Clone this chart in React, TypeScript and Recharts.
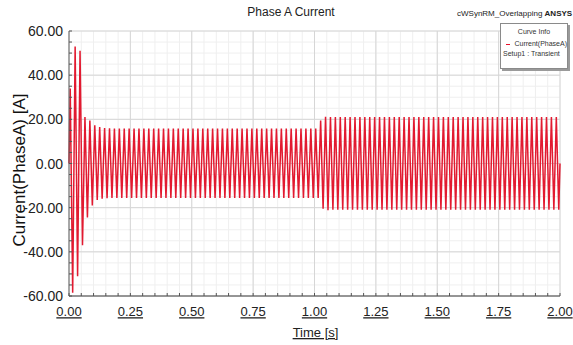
import React from "react";
import { LineChart, Line, XAxis, YAxis, CartesianGrid, Legend } from "recharts";

// Phase A current, peak of each half cycle (A). 50 Hz supply, load step near t = 1.03 s.
const posPeaks = [
  34, 53, 51, 21, 19.5, 17.3, 16.5, 16.1, 15.9, 15.8,
  15.8, 15.8, 15.8, 15.8, 15.8, 15.8, 15.8, 15.8, 15.8, 15.8,
  15.8, 15.8, 15.8, 15.8, 15.8, 15.8, 15.8, 15.8, 15.8, 15.8,
  15.8, 15.8, 15.8, 15.8, 15.8, 15.8, 15.8, 15.8, 15.8, 15.8,
  15.8, 15.8, 15.8, 15.8, 15.8, 15.8, 15.8, 15.8, 15.8, 15.8,
  15.8, 19.5, 21.2, 21.0, 21.0, 21.0, 21.0, 21.0, 21.0, 21.0,
  21.0, 21.0, 21.0, 21.0, 21.0, 21.0, 21.0, 21.0, 21.0, 21.0,
  21.0, 21.0, 21.0, 21.0, 21.0, 21.0, 21.0, 21.0, 21.0, 21.0,
  21.0, 21.0, 21.0, 21.0, 21.0, 21.0, 21.0, 21.0, 21.0, 21.0,
  21.0, 21.0, 21.0, 21.0, 21.0, 21.0, 21.0, 21.0, 21.0, 21.0,
];
const negPeaks = [
  -58.5, -51, -37, -24.4, -19, -16.5, -16, -15.7, -15.6, -15.6,
  -15.6, -15.6, -15.6, -15.6, -15.6, -15.6, -15.6, -15.6, -15.6, -15.6,
  -15.6, -15.6, -15.6, -15.6, -15.6, -15.6, -15.6, -15.6, -15.6, -15.6,
  -15.6, -15.6, -15.6, -15.6, -15.6, -15.6, -15.6, -15.6, -15.6, -15.6,
  -15.6, -15.6, -15.6, -15.6, -15.6, -15.6, -15.6, -15.6, -15.6, -15.6,
  -15.6, -20.5, -21.2, -20.9, -20.9, -20.9, -20.9, -20.9, -20.9, -20.9,
  -20.9, -20.9, -20.9, -20.9, -20.9, -20.9, -20.9, -20.9, -20.9, -20.9,
  -20.9, -20.9, -20.9, -20.9, -20.9, -20.9, -20.9, -20.9, -20.9, -20.9,
  -20.9, -20.9, -20.9, -20.9, -20.9, -20.9, -20.9, -20.9, -20.9, -20.9,
  -20.9, -20.9, -20.9, -20.9, -20.9, -20.9, -20.9, -20.9, -20.9, -20.9,
];
const PERIOD = 0.02;

const xTicks = [0, 0.25, 0.5, 0.75, 1, 1.25, 1.5, 1.75, 2];
const yTicks = [-60, -40, -20, 0, 20, 40, 60];
const xMinor = Array.from({ length: 41 }, (_, i) => +(i * 0.05).toFixed(2));
const yMinor = Array.from({ length: 25 }, (_, i) => -60 + i * 5);

const rows: { t: number; i: number }[] = [{ t: 0, i: 0 }];
posPeaks.forEach((p, k) => {
  rows.push({ t: PERIOD * k + PERIOD / 4, i: p });
  rows.push({ t: PERIOD * k + (3 * PERIOD) / 4, i: negPeaks[k] });
});
rows.push({ t: 2, i: 0 });

const FONT = "Arial, 'Liberation Sans', sans-serif";
const isMajor = (v: number, step: number) => Math.abs(v / step - Math.round(v / step)) < 1e-6;

const XTick = ({ x, y, payload }: any) =>
  isMajor(payload.value, 0.25) ? (
    <text x={x} y={y} dy="0.71em" textAnchor="middle" fontSize={13} fontFamily={FONT} fill="#222" textDecoration="underline">
      {payload.value.toFixed(2)}
    </text>
  ) : null;

const YTick = ({ x, y, payload }: any) =>
  isMajor(payload.value, 20) ? (
    <text x={x} y={y} dy="0.36em" textAnchor="end" fontSize={14} fontFamily={FONT} fill="#222">
      {payload.value.toFixed(2)}
    </text>
  ) : null;

const CurveInfo = () => (
  <div
    style={{
      width: 68,
      height: 46,
      border: "1px solid #8a8a8a",
      background: "#fff",
      boxShadow: "2px 2px 0 #9a9a9a",
      fontFamily: FONT,
      fontSize: 7,
      color: "#333",
      lineHeight: "10px",
      boxSizing: "border-box",
      paddingTop: 3,
    }}
  >
    <div style={{ textAlign: "center" }}>Curve Info</div>
    <div style={{ display: "flex", alignItems: "center", marginTop: 2, paddingLeft: 5 }}>
      <span style={{ display: "inline-block", width: 8, height: 1, background: "#e8102a", marginRight: 4 }} />
      Current(PhaseA)
    </div>
    <div style={{ paddingLeft: 2 }}>Setup1 : Transient</div>
  </div>
);

export default function App() {
  return (
    <div style={{ position: "absolute", left: 0, top: 0, width: 573, height: 345, background: "#fff" }}>
      <div style={{ position: "absolute", left: 0, width: 582, top: 5, textAlign: "center", fontFamily: FONT, fontSize: 12, color: "#222" }}>
        Phase A Current
      </div>
      <div style={{ position: "absolute", left: 457, top: 9, fontFamily: FONT, fontSize: 8, color: "#222", whiteSpace: "nowrap" }}>
        cWSynRM_Overlapping <b style={{ fontSize: 8 }}>ANSYS</b>
      </div>
      <LineChart width={573} height={345} data={rows} margin={{ top: 31, right: 13, bottom: 19, left: 9 }}>
        <CartesianGrid stroke="#efefef" verticalValues={xMinor} horizontalValues={yMinor} />
        <CartesianGrid stroke="#d6d6d6" verticalValues={xTicks} horizontalValues={yTicks} />
        <XAxis
          dataKey="t"
          type="number"
          domain={[0, 2]}
          ticks={xMinor}
          interval={0}
          height={30}
          tickSize={-3}
          tickMargin={14}
          tick={<XTick />}
          tickLine={{ stroke: "#555" }}
          axisLine={{ stroke: "#444" }}
          label={{
            content: ({ viewBox }: any) => (
              <text x={viewBox.x + viewBox.width / 2 + 1} y={337} textAnchor="middle" fontSize={13} fontFamily={FONT} fill="#222" textDecoration="underline">
                Time [s]
              </text>
            ),
          }}
        />
        <XAxis xAxisId="top" orientation="top" dataKey="t" type="number" domain={[0, 2]} height={0} tick={false} tickLine={false} axisLine={{ stroke: "#b4b4b4", strokeWidth: 2 }} />
        <YAxis
          type="number"
          domain={[-60, 60]}
          ticks={yMinor}
          interval={0}
          width={60}
          tickSize={-3}
          tickMargin={9}
          tick={<YTick />}
          tickLine={{ stroke: "#555" }}
          axisLine={{ stroke: "#666" }}
          label={{
            content: () => (
              <text x={25} y={170} transform="rotate(-90, 25, 170)" textAnchor="middle" fontSize={17} fontFamily={FONT} fill="#111">
                Current(PhaseA) [A]
              </text>
            ),
          }}
        />
        <YAxis yAxisId="right" orientation="right" type="number" domain={[-60, 60]} width={0} tick={false} tickLine={false} axisLine={{ stroke: "#9a9a9a" }} />
        <Legend
          layout="vertical"
          verticalAlign="middle"
          align="center"
          content={<CurveInfo />}
          wrapperStyle={{ position: "absolute", left: 500, top: 23, width: 70 }}
        />
        <Line
          dataKey="i"
          name="Current(PhaseA)"
          type="linear"
          stroke="#e21a30"
          strokeWidth={1.5}
          dot={false}
          isAnimationActive={false}
        />
      </LineChart>
    </div>
  );
}
